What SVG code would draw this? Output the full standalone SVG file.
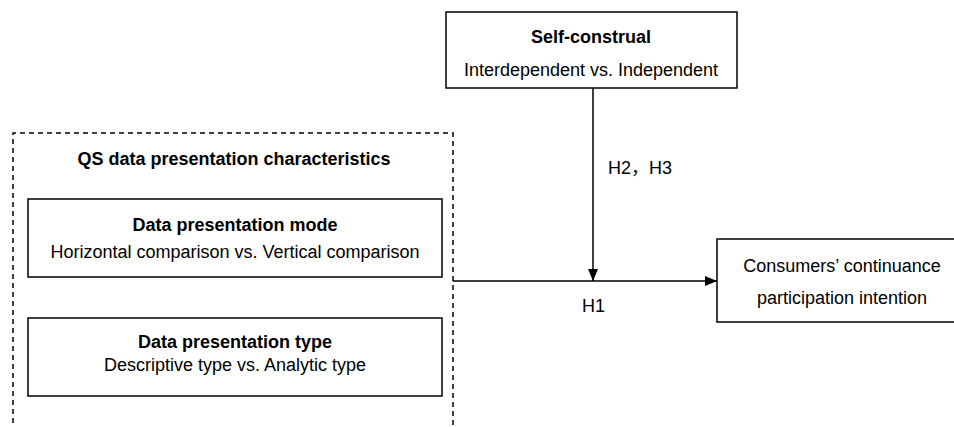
<svg xmlns="http://www.w3.org/2000/svg" width="954" height="427" viewBox="0 0 954 427">
<style>
text{font-family:"Liberation Sans","Noto Sans CJK SC",Arial,sans-serif;font-size:18px;fill:#000}
.b{font-weight:bold}
.c{text-anchor:middle}
.box{fill:#fff;stroke:#000;stroke-width:1.5}
.ln{fill:none;stroke:#000;stroke-width:1.5}
</style>
<defs>
<marker id="ah" markerWidth="12" markerHeight="10" refX="12" refY="5" orient="auto" markerUnits="userSpaceOnUse">
<path d="M0,0 L12,5 L0,10 Z" fill="#000"/>
</marker>
</defs>
<rect width="954" height="427" fill="#fff"/>
<g id="qs-group">
<path d="M13,432 V133 H453 V432" fill="none" stroke="#000" stroke-width="1.5" stroke-dasharray="5,4"/>
<text class="b c" x="234" y="165">QS data presentation characteristics</text>
</g>
<g id="mode">
<rect class="box" x="28" y="199" width="414" height="78"/>
<text class="b c" x="235" y="231">Data presentation mode</text>
<text class="c" x="235" y="258">Horizontal comparison vs. Vertical comparison</text>
</g>
<g id="type">
<rect class="box" x="28" y="318" width="414" height="78"/>
<text class="b c" x="235" y="348">Data presentation type</text>
<text class="c" x="235" y="371">Descriptive type vs. Analytic type</text>
</g>
<g id="self">
<rect class="box" x="446" y="12" width="291" height="76"/>
<text class="b c" x="591" y="43">Self-construal</text>
<text class="c" x="591" y="76">Interdependent vs. Independent</text>
</g>
<g id="intention">
<rect class="box" x="717" y="239" width="240" height="83"/>
<text class="c" x="842" y="272">Consumers’ continuance</text>
<text class="c" x="842" y="304">participation intention</text>
</g>
<g id="connectors">
<line class="ln" x1="593" y1="88" x2="593" y2="281" marker-end="url(#ah)"/>
<line class="ln" x1="453" y1="281" x2="717" y2="281" marker-end="url(#ah)"/>
<text x="608" y="174">H2，H3</text>
<text x="582" y="312">H1</text>
</g>
</svg>
